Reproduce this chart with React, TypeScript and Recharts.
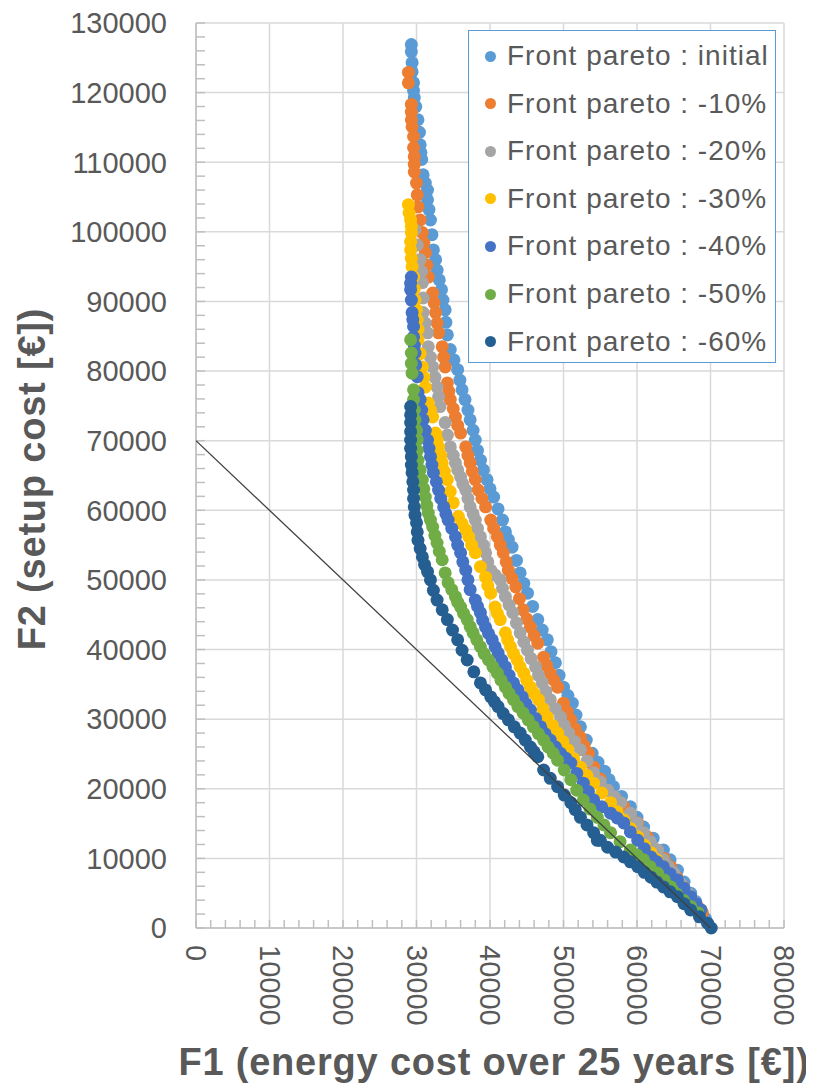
import { ScatterChart, Scatter, XAxis, YAxis, CartesianGrid } from 'recharts';

// axis ticks
const f1Ticks = [0, 10000, 20000, 30000, 40000, 50000, 60000, 70000, 80000];
const f2Ticks = [0, 10000, 20000, 30000, 40000, 50000, 60000, 70000, 80000, 90000, 100000, 110000, 120000, 130000];
const f1Minor = Array.from({ length: 41 }, (_, i) => i * 2000);
const f2Minor = Array.from({ length: 66 }, (_, i) => i * 2000);

const seriesNames = [
  'Front pareto : initial',
  'Front pareto : -10%',
  'Front pareto : -20%',
  'Front pareto : -30%',
  'Front pareto : -40%',
  'Front pareto : -50%',
  'Front pareto : -60%',
];
const seriesColors = ['#5B9BD5', '#ED7D31', '#A5A5A5', '#FFC000', '#4472C4', '#70AD47', '#255E91'];

// [F1 energy cost, F2 setup cost]
const frontInitial: [number, number][] = [
  [29300, 126900], [29300, 125900], [29400, 124300], [29400, 123000], [29600, 121400], [29600, 120300],
  [29700, 119300], [29900, 118000], [30200, 116100], [30400, 114300], [30500, 112500], [30600, 111400],
  [30700, 110400], [30900, 108200], [31200, 107000], [31500, 106000], [31500, 104600], [31700, 103200],
  [31900, 101700], [32100, 99600], [32300, 97400], [32600, 96000], [32800, 94500], [33100, 93100],
  [33400, 91700], [33600, 90200], [33900, 88800], [34000, 87000], [34200, 85200], [34600, 83100],
  [35100, 81600], [35600, 80200], [35900, 78700], [36200, 77300], [36600, 75900], [37000, 74400],
  [37300, 73000], [37700, 71500], [38000, 70100], [38300, 68600], [38700, 67200], [39100, 65800],
  [39600, 64400], [40000, 63100], [40500, 61900], [41100, 60200], [41700, 58600], [42100, 56900],
  [42500, 55800], [43000, 54700], [43600, 52800], [44100, 51000], [44600, 49500], [45100, 48100],
  [45800, 46200], [46500, 44300], [47100, 42800], [47800, 41400], [48300, 39700], [48900, 38100],
  [49400, 36300], [50000, 34600], [50600, 33400], [51200, 32300], [51700, 30600], [52300, 28900],
  [53100, 27000], [53900, 25100], [54700, 23800], [55600, 22500], [56200, 21300], [56800, 20300],
  [57900, 18900], [59100, 17400], [60000, 15900], [60900, 14500], [62200, 12900], [63600, 11200],
  [64500, 9800], [65500, 8300], [66400, 6600], [67300, 5000], [68000, 3800], [68700, 2600], [69300, 1400],
];
const front10: [number, number][] = [
  [28900, 122900], [28900, 121400], [29300, 118300], [29300, 117200], [29300, 116100], [29400, 115100],
  [29600, 113700], [29600, 112100], [29700, 110800], [29700, 109700], [29700, 108600], [30000, 107000],
  [30100, 105300], [30200, 103600], [30500, 101700], [30800, 99900], [31000, 98400], [31200, 97000],
  [31400, 95200], [31600, 93500], [32200, 91200], [32400, 89800], [32600, 88400], [32800, 86900],
  [33000, 85500], [33500, 83500], [33700, 82000], [33900, 80600], [34200, 78300], [34400, 77100],
  [34600, 75900], [35000, 74600], [35300, 73400], [35600, 72200], [36000, 71100], [36700, 69100],
  [37000, 67900], [37300, 66800], [37600, 65600], [38000, 64400], [38400, 62900], [38900, 61700],
  [39400, 60500], [40100, 58600], [40500, 57400], [41000, 56200], [41400, 55000], [41800, 53900],
  [42200, 52600], [42500, 51400], [43000, 50200], [43500, 49000], [44000, 47300], [44500, 45700],
  [45000, 44400], [45500, 43200], [46000, 42000], [46500, 40900], [47300, 38900], [47700, 37700],
  [48200, 36600], [48700, 35600], [49200, 34600], [50000, 32300], [50500, 31100], [51000, 29900],
  [51600, 28600], [52300, 27400], [52800, 26200], [53400, 25100], [54100, 23100], [55000, 21400],
  [56000, 19800], [57100, 18600], [58200, 17400], [59100, 16200], [60100, 15100], [61400, 13100],
  [62800, 11200], [63700, 10000], [64600, 8800], [65400, 7300], [66300, 5900], [67300, 4400],
  [68300, 3000], [68900, 2200],
];
const front20: [number, number][] = [
  [29800, 100300], [30100, 98100], [30500, 96000], [30700, 94300], [30800, 92700], [30900, 90500],
  [30900, 88400], [31200, 86900], [31500, 85500], [31600, 83500], [31900, 82000], [32200, 80600],
  [32500, 79100], [32800, 77700], [33000, 76300], [33200, 74900], [33900, 72600], [34200, 70800],
  [34600, 69100], [35000, 67900], [35300, 66800], [35600, 65800], [36000, 64800], [36300, 63800],
  [36700, 62900], [37000, 61700], [37300, 60500], [37700, 59500], [38000, 58600], [38300, 57400],
  [38700, 56200], [39100, 55000], [39400, 53900], [39700, 52600], [40100, 51400], [40700, 50700],
  [41400, 50000], [41700, 48800], [42100, 47600], [42600, 46400], [43100, 45300], [43600, 43800],
  [44100, 42400], [44600, 41100], [45100, 39900], [45600, 38700], [46200, 37500], [46600, 36300],
  [47100, 35200], [47600, 34000], [48200, 32800], [48900, 31500], [49600, 30300], [50100, 29100],
  [50700, 28000], [51500, 26800], [52300, 25600], [53200, 24000], [54100, 22300], [55000, 21000],
  [56000, 19800], [56900, 18900], [57800, 18000], [59100, 16500], [60000, 15100], [60900, 13700],
  [61800, 12400], [62800, 11200], [63600, 9800], [64300, 8800], [65000, 7900], [65900, 6400],
  [66900, 5000], [67600, 3900], [68300, 2900],
];
const front30: [number, number][] = [
  [28900, 103900], [29000, 102700], [29200, 101700], [29300, 100800], [29300, 99900], [29200, 98600],
  [29200, 97400], [29300, 96200], [29400, 95000], [29600, 93500], [29700, 91800], [29800, 90200],
  [30000, 88800], [30100, 87400], [30200, 86000], [30200, 84500], [30500, 82500], [30800, 80600],
  [31000, 79100], [31200, 77700], [31600, 75400], [31900, 74400], [32200, 73400], [32600, 71100],
  [32800, 70100], [33000, 69100], [33300, 67900], [33500, 66800], [33800, 65600], [34200, 64400],
  [34600, 62700], [35000, 61100], [35700, 59100], [36200, 58100], [36700, 57200], [37100, 56200],
  [37500, 55000], [38000, 53900], [38700, 51900], [39400, 50400], [39700, 49200], [40100, 48100],
  [40700, 46100], [41000, 45200], [41400, 44300], [42100, 42400], [42400, 41400], [42800, 40400],
  [43200, 39400], [43700, 38500], [44100, 37500], [44600, 36600], [45000, 35600], [45500, 34600],
  [46000, 33700], [46600, 32800], [47200, 31500], [47800, 30300], [48500, 29100], [49200, 28000],
  [49900, 26800], [50600, 25600], [51400, 24300], [52300, 23100], [53200, 21900], [54100, 20800],
  [55200, 19400], [56400, 18000], [57300, 16700], [58200, 15500], [59100, 14300], [60100, 13100],
  [61000, 11900], [61900, 10800], [62700, 9800], [63600, 8800], [64500, 7600], [65500, 6500],
  [66400, 5200], [67300, 4000], [68700, 2600],
];
const front40: [number, number][] = [
  [29300, 93500], [29200, 92600], [29200, 91700], [29300, 90200], [29400, 88400], [29500, 87400],
  [29600, 86400], [29600, 84900], [29700, 83700], [29800, 82600], [29900, 80900], [30100, 79200],
  [30200, 76900], [30500, 75900], [30700, 74400], [30900, 73000], [31200, 71500], [31500, 70100],
  [31700, 68900], [31900, 67700], [32100, 66500], [32300, 65400], [32700, 64100], [33000, 62900],
  [33300, 61700], [33700, 60500], [34000, 59500], [34300, 58600], [34800, 57400], [35300, 56200],
  [35600, 55000], [36000, 53900], [36300, 52600], [36700, 51400], [37000, 50000], [37300, 48600],
  [38000, 47100], [38300, 46200], [38700, 45300], [39000, 44200], [39400, 43200], [39800, 42300],
  [40300, 41400], [40700, 40400], [41100, 39500], [41600, 38500], [42100, 37500], [42600, 36300],
  [43200, 35200], [43800, 34200], [44400, 33200], [44900, 32200], [45500, 31300], [46200, 30100],
  [46900, 28900], [47500, 27900], [48200, 27000], [48900, 26000], [49600, 25100], [50300, 24400],
  [51000, 23700], [51800, 22200], [52700, 20800], [53400, 19600], [54100, 18400], [55200, 17400],
  [56400, 16500], [57300, 15800], [58200, 15100], [59100, 13800], [60100, 12600], [61000, 11400],
  [61900, 10200], [62700, 9500], [63600, 8800], [64500, 7800], [65500, 6900], [66400, 5700],
  [67300, 4500], [68000, 3500], [68700, 2600],
];
const front50: [number, number][] = [
  [29200, 84500], [29300, 82600], [29300, 81100], [29400, 79700], [29600, 77300], [29600, 75900],
  [29700, 74400], [29800, 73000], [30000, 71500], [30100, 70100], [30100, 68600], [30200, 67200],
  [30500, 65800], [30800, 64400], [31000, 63100], [31200, 61900], [31400, 60700], [31600, 59600],
  [31900, 58600], [32200, 57600], [32500, 56400], [32800, 55300], [33100, 54100], [33500, 52900],
  [33900, 51000], [34300, 49600], [34800, 48600], [35300, 47600], [35600, 46800], [36000, 46100],
  [36400, 45200], [36900, 44300], [37300, 43300], [37700, 42400], [38200, 41400], [38700, 40400],
  [39200, 39400], [39800, 38500], [40400, 37500], [41000, 36600], [41500, 35600], [42100, 34600],
  [42600, 33700], [43200, 32800], [43800, 31800], [44500, 30900], [45200, 29900], [45900, 28900],
  [46600, 27900], [47300, 27000], [47900, 26000], [48600, 25100], [49200, 24100], [50100, 22700],
  [51000, 21300], [51800, 19800], [52700, 18400], [53600, 17100], [54600, 15900], [55500, 14800],
  [56400, 13700], [57700, 12400], [59100, 11200], [60000, 10500], [60900, 9800], [61800, 8800],
  [62800, 7900], [63700, 6900], [64600, 5900], [65400, 4900], [66300, 4000], [67300, 3100], [68300, 2200],
];
const front60: [number, number][] = [
  [29200, 74900], [29200, 73700], [29200, 72600], [29200, 71300], [29200, 70100], [29200, 68900],
  [29300, 67700], [29300, 66500], [29400, 65400], [29500, 64100], [29600, 62900], [29600, 61700],
  [29700, 60500], [29800, 59300], [30000, 58200], [30100, 56900], [30200, 55700], [30500, 54500],
  [30800, 53300], [31100, 52200], [31500, 51200], [31900, 50000], [32300, 48500], [32800, 47100],
  [33500, 45700], [34200, 44300], [34900, 42800], [35600, 41400], [36200, 39900], [36900, 38500],
  [37800, 36800], [38700, 35200], [39400, 34200], [40100, 33200], [40600, 32500], [41100, 31800],
  [41800, 30800], [42500, 29900], [43300, 28900], [44100, 28000], [44800, 27000], [45500, 26000],
  [46000, 25300], [46500, 24600], [47300, 22700], [48200, 21500], [49200, 20300], [50100, 19100],
  [51000, 18000], [51600, 17000], [52300, 15900], [53200, 14800], [54100, 13700], [54600, 12600],
  [55000, 12600], [56000, 11600], [57100, 10900], [58200, 10200], [59100, 9500], [60100, 8800],
  [61000, 8000], [61900, 7300], [62700, 6600], [63600, 5900], [64500, 5200], [65500, 4500],
  [66400, 3500], [67300, 2600], [68500, 1600], [69600, 700], [70100, 0],
];
const diagonal: [number, number][] = [[0, 70000], [70000, 0]];

const allFronts = [frontInitial, front10, front20, front30, front40, front50, front60];

const FONT = '"Liberation Sans", Arial, sans-serif';
const TEXT = '#595959';

function toPoints(list: [number, number][]) {
  return list.map(([x, y]) => ({ x, y }));
}

function RotatedTick({ x, y, payload }: any) {
  return (
    <text
      x={x}
      y={y}
      transform={`rotate(90 ${x} ${y})`}
      textAnchor="start"
      dominantBaseline="central"
      fill={TEXT}
      fontSize={29}
      fontFamily={FONT}
    >
      {payload.value}
    </text>
  );
}

export default function App() {
  return (
    <div style={{ position: 'relative', width: 806, height: 1081, fontFamily: FONT }}>
      <ScatterChart width={806} height={1081} margin={{ top: 15, right: 30, left: 0, bottom: 41 }}>
        <CartesianGrid stroke="#d9d9d9" strokeWidth={1.5} />
        <XAxis
          type="number"
          dataKey="x"
          domain={[0, 80000]}
          ticks={f1Ticks}
          interval={0}
          height={120}
          tickSize={0}
          tickMargin={17}
          tick={<RotatedTick />}
          axisLine={{ stroke: '#bfbfbf', strokeWidth: 1.5 }}
          tickLine={false}
          label={{
            content: () => (
              <text x={486} y={1067} textAnchor="middle" fill={TEXT} fontSize={38} fontWeight="bold" fontFamily={FONT} letterSpacing={0.8}>
                F1 (energy cost over 25 years [€])
              </text>
            ),
          }}
        />
        <YAxis
          type="number"
          dataKey="y"
          domain={[0, 130000]}
          ticks={f2Ticks}
          interval={0}
          width={188}
          tickSize={0}
          tickMargin={29}
          tick={{ fill: TEXT, fontSize: 29, fontFamily: FONT }}
          axisLine={{ stroke: '#bfbfbf', strokeWidth: 1.5 }}
          tickLine={false}
          label={{
            content: () => (
              <text
                x={37}
                y={471}
                transform="rotate(-90 37 471)"
                textAnchor="middle"
                fill={TEXT}
                fontSize={38}
                fontWeight="bold"
                fontFamily={FONT}
                letterSpacing={0.8}
              >
                F2 (setup cost [€])
              </text>
            ),
          }}
        />
        <XAxis
          xAxisId="minor"
          dataKey="x"
          type="number"
          domain={[0, 80000]}
          allowDataOverflow
          ticks={f1Minor}
          interval={0}
          mirror
          height={1}
          tickSize={8}
          tick={() => <g />}
          axisLine={false}
          tickLine={{ stroke: '#bfbfbf', strokeWidth: 1.5 }}
        />
        <YAxis
          yAxisId="minor"
          dataKey="y"
          type="number"
          domain={[0, 130000]}
          allowDataOverflow
          ticks={f2Minor}
          interval={0}
          mirror
          width={1}
          tickSize={9}
          tick={() => <g />}
          axisLine={false}
          tickLine={{ stroke: '#bfbfbf', strokeWidth: 1.5 }}
        />
        {allFronts.map((front, i) => (
          <Scatter
            key={seriesNames[i]}
            name={seriesNames[i]}
            data={toPoints(front)}
            fill={seriesColors[i]}
            isAnimationActive={false}
            shape={(p: any) => <circle cx={p.cx} cy={p.cy} r={6.5} fill={seriesColors[i]} />}
          />
        ))}
        <Scatter
          name="diagonal"
          xAxisId="minor"
          yAxisId="minor"
          data={toPoints(diagonal)}
          line={{ stroke: '#404040', strokeWidth: 1.3 }}
          shape={() => <g />}
          isAnimationActive={false}
        />
      </ScatterChart>
      <div
        style={{
          position: 'absolute',
          left: 460,
          top: 22,
          width: 306,
          height: 331,
          border: '1.5px solid #5B9BD5',
          background: '#fff',
        }}
      >
        {seriesNames.map((name, i) => (
          <div
            key={name}
            style={{
              position: 'absolute',
              left: 0,
              top: 25 + i * 47.6 - 20,
              height: 40,
              display: 'flex',
              alignItems: 'center',
              whiteSpace: 'nowrap',
            }}
          >
            <span
              style={{
                display: 'inline-block',
                width: 11,
                height: 11,
                borderRadius: '50%',
                background: seriesColors[i],
                marginLeft: 16,
                marginRight: 11,
              }}
            />
            <span style={{ fontSize: 28, color: TEXT, letterSpacing: 1, lineHeight: '40px' }}>{name}</span>
          </div>
        ))}
      </div>
    </div>
  );
}
